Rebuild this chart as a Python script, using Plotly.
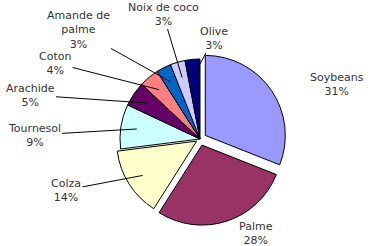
import math
import plotly.graph_objects as go

categories = ["Soybeans", "Palme", "Colza", "Tournesol", "Arachide", "Coton",
              "Amande de palme", "Noix de coco", "Olive"]
display_labels = ["Soybeans", "Palme", "Colza", "Tournesol", "Arachide", "Coton",
                  "Amande de<br>palme", "Noix de coco", "Olive"]
values = [31, 28, 14, 9, 5, 4, 3, 3, 3]
colors = ["#9999FF", "#993366", "#FFFFCC", "#CCFFFF", "#660066", "#FF8080",
          "#0066CC", "#CCCCFF", "#000080"]
pulls = [0.08, 0.08, 0.05, 0, 0, 0, 0, 0, 0]

# label text-block centres (pixel coords) and whether a leader line is drawn
label_pos = [(337, 84), (256, 233), (66, 190), (34, 135), (30, 95),
             (55, 63), (78, 30), (163, 14), (214, 38)]
leader = [False, False, True, True, True, True, True, True, True]

W, H = 372, 246
CX, CY, R = 200, 139, 80
maxpull = max(pulls)
half = R * (1 + maxpull)
dom_x = [(CX - half) / W, (CX + half) / W]
dom_y = [1 - (CY + half) / H, 1 - (CY - half) / H]

FONT = dict(family="DejaVu Sans, Arial, sans-serif", size=11, color="#333333")

fig = go.Figure(go.Pie(
    labels=categories,
    values=values,
    sort=False,
    direction="clockwise",
    rotation=0,
    pull=pulls,
    marker=dict(colors=colors, line=dict(color="black", width=1)),
    textinfo="none",
    showlegend=False,
    domain=dict(x=dom_x, y=dom_y),
    hoverinfo="label+percent",
))

# invisible pixel-like axes for label placement
fig.add_trace(go.Scatter(x=[None], y=[None], showlegend=False, hoverinfo="skip"))

total = sum(values)
cum = 0
annotations = []
for cat, disp, v, p, pos, ld in zip(categories, display_labels, values, pulls,
                                    label_pos, leader):
    mid = (cum + v / 2) / total * 2 * math.pi
    cum += v
    text = f"{disp}<br>{round(v / total * 100)}%"
    if ld:
        rho = 0.8 * R + p * R
        tx = CX + rho * math.sin(mid)
        ty = CY - rho * math.cos(mid)
        annotations.append(dict(
            x=tx, y=ty, xref="x", yref="y",
            ax=pos[0], ay=pos[1], axref="x", ayref="y",
            text=text, showarrow=True, arrowhead=0, arrowwidth=1,
            arrowcolor="black", standoff=0, font=FONT,
        ))
    else:
        annotations.append(dict(
            x=pos[0], y=pos[1], xref="x", yref="y", text=text,
            showarrow=False, font=FONT,
        ))

fig.update_layout(
    width=W, height=H,
    margin=dict(l=0, r=0, t=0, b=0),
    paper_bgcolor="white",
    plot_bgcolor="rgba(0,0,0,0)",
    xaxis=dict(range=[0, W], visible=False, fixedrange=True),
    yaxis=dict(range=[H, 0], visible=False, fixedrange=True),
    annotations=annotations,
)

fig.write_html("out.html")
